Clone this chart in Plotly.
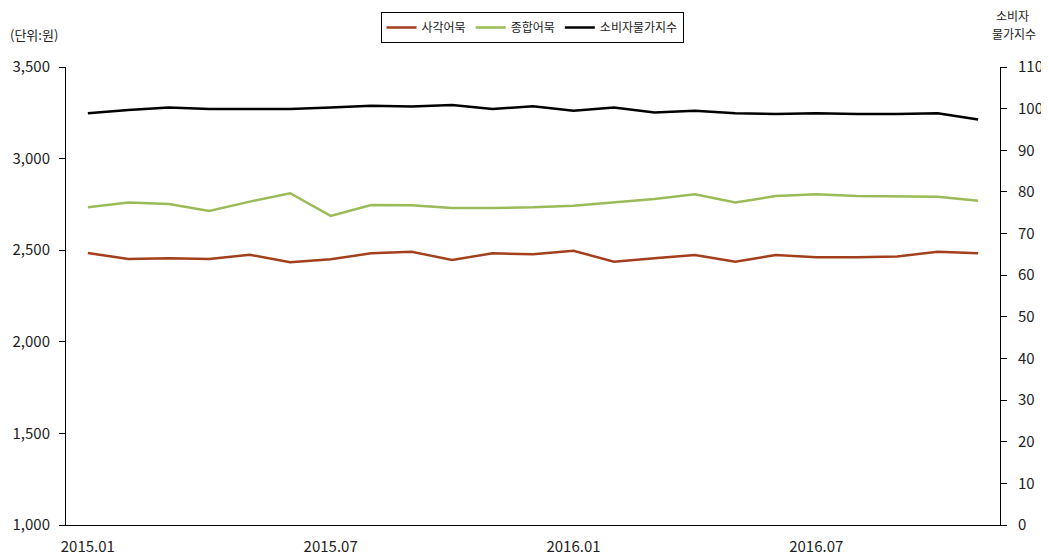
import plotly.graph_objects as go

months = ["2015.01","2015.02","2015.03","2015.04","2015.05","2015.06","2015.07","2015.08",
          "2015.09","2015.10","2015.11","2015.12","2016.01","2016.02","2016.03","2016.04",
          "2016.05","2016.06","2016.07","2016.08","2016.09","2016.10","2016.11"]
square_fishcake = [2485,2452,2456,2452,2475,2434,2450,2483,2492,2446,2483,2478,
                   2497,2437,2456,2474,2437,2474,2461,2461,2466,2492,2483]
mixed_fishcake = [2734,2760,2752,2714,2765,2811,2687,2747,2745,2730,2730,2734,
                  2743,2760,2780,2805,2760,2796,2805,2796,2792,2792,2770]
cpi = [98.9,99.7,100.3,99.9,99.9,99.9,100.3,100.7,100.5,100.9,99.9,100.6,
       99.5,100.3,99.1,99.5,98.9,98.7,98.9,98.7,98.7,98.9,97.4]
tick_labels = ["2015.01","2015.07","2016.01","2016.07"]
names = ["사각어묵","종합어묵","소비자물가지수"]

font_family = "Noto Sans CJK KR, Malgun Gothic, sans-serif"

fig = go.Figure()
fig.add_trace(go.Scatter(x=months, y=square_fishcake, name=names[0], mode="lines",
                         line=dict(color="#A33F1C", width=2.5)))
fig.add_trace(go.Scatter(x=months, y=mixed_fishcake, name=names[1], mode="lines",
                         line=dict(color="#9BBB59", width=2.5)))
fig.add_trace(go.Scatter(x=months, y=cpi, name=names[2], mode="lines", yaxis="y2",
                         line=dict(color="#000000", width=2.5)))

W, H = 1041, 549
fig.update_layout(
    width=W, height=H,
    margin=dict(l=58, r=49, t=59, b=32, autoexpand=False),
    plot_bgcolor="white", paper_bgcolor="white",
    font=dict(family=font_family, size=15, color="#222222"),
    showlegend=True,
    legend=dict(orientation="h", xref="container", yref="container",
                x=524 / W, xanchor="center", y=(H - 4) / H, yanchor="top",
                bordercolor="#000000", borderwidth=1, entrywidth=0,
                font=dict(size=12, color="#222222")),
    xaxis=dict(type="category", range=[-0.54, 22.54], tickmode="array",
               tickvals=tick_labels, ticktext=tick_labels, showgrid=False,
               showline=True, linecolor="#000000", linewidth=1, ticks="",
               ticklabelstandoff=8, tickfont=dict(size=15)),
    yaxis=dict(range=[1000, 3500], tickvals=[1000,1500,2000,2500,3000,3500],
               tickformat=",d", showgrid=False, zeroline=False, showline=True,
               linecolor="#000000", linewidth=1, ticks="outside", ticklen=6,
               tickcolor="#000000", ticklabelstandoff=6, tickfont=dict(size=15)),
    yaxis2=dict(range=[0, 110], dtick=10, overlaying="y", side="right",
                showgrid=False, zeroline=False, showline=True, linecolor="#000000",
                linewidth=1, ticks="outside", ticklen=6, tickcolor="#000000",
                ticklabelstandoff=8, tickfont=dict(size=15)),
    annotations=[
        dict(text="(단위:원)", xref="paper", yref="paper", x=-0.062, y=1.07,
             xanchor="left", yanchor="middle", showarrow=False, font=dict(size=13)),
        dict(text="소비자", xref="paper", yref="paper", x=1.0139, y=1.113,
             xanchor="center", yanchor="middle", showarrow=False,
             font=dict(size=12)),
        dict(text="물가지수", xref="paper", yref="paper", x=1.015, y=1.073,
             xanchor="center", yanchor="middle", showarrow=False,
             font=dict(size=12)),
    ],
)
fig.write_html("out.html")
